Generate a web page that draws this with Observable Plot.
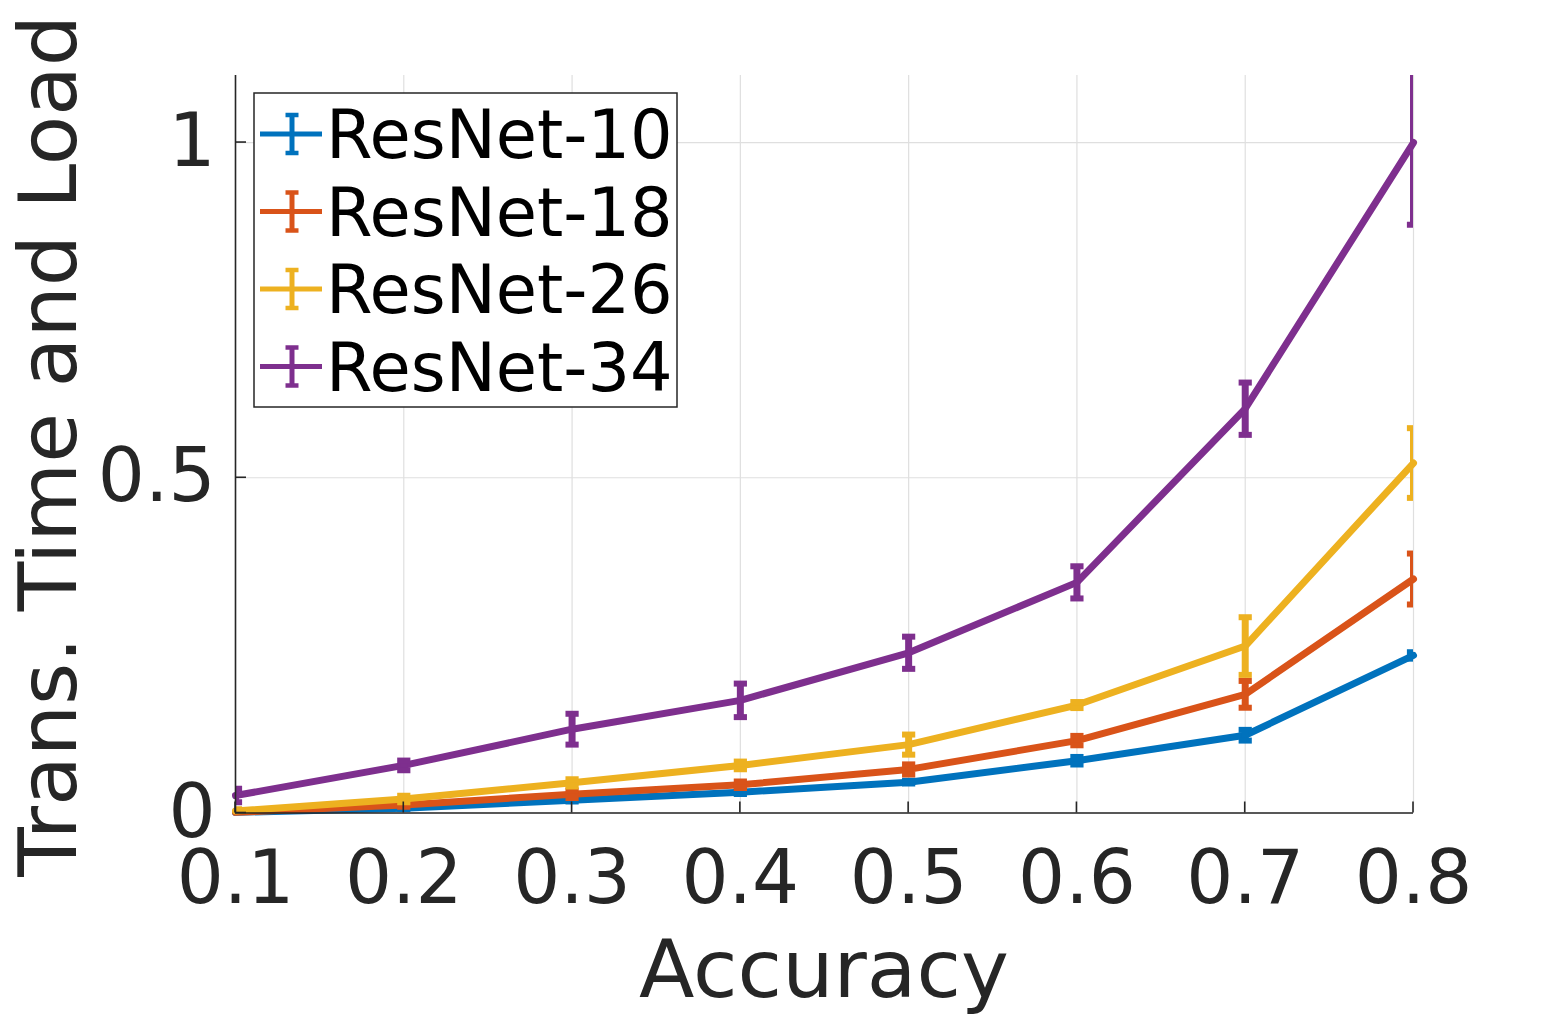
<!DOCTYPE html>
<html>
<head>
<meta charset="utf-8">
<script src="https://cdn.jsdelivr.net/npm/d3@7"></script>
<script src="https://cdn.jsdelivr.net/npm/@observablehq/plot@0.6"></script>
<style>
  html, body { margin: 0; padding: 0; background: #fff; }
  #chart { position: relative; width: 1563px; height: 1016px; }
</style>
</head>
<body>
<div id="chart"></div>
<script>
// ---- data ----
const accuracy = [0.1, 0.2, 0.3, 0.4, 0.5, 0.6, 0.7, 0.8];
const seriesNames = ["ResNet-10", "ResNet-18", "ResNet-26", "ResNet-34"];
const seriesColors = ["#0072BD", "#D95319", "#EDB120", "#7E2F8E"];
const resnet10 = [0.001, 0.007, 0.019, 0.031, 0.046, 0.078, 0.116, 0.235];
const resnet10Err = [0.001, 0.001, 0.002, 0.0025, 0.002, 0.0056, 0.008, 0.0048];
const resnet18 = [0.001, 0.012, 0.028, 0.042, 0.065, 0.108, 0.177, 0.349];
const resnet18Err = [0.002, 0.0025, 0.0055, 0.0048, 0.0075, 0.007, 0.020, 0.038];
const resnet26 = [0.003, 0.021, 0.045, 0.071, 0.102, 0.161, 0.249, 0.522];
const resnet26Err = [0.0025, 0.0048, 0.0055, 0.0057, 0.015, 0.0045, 0.043, 0.052];
const resnet34 = [0.026, 0.071, 0.125, 0.168, 0.239, 0.344, 0.603, 1.0];
const resnet34Err = [0.010, 0.0072, 0.023, 0.025, 0.024, 0.024, 0.039, 0.1225];
const xTicks = [0.1, 0.2, 0.3, 0.4, 0.5, 0.6, 0.7, 0.8];
const yTicks = [0, 0.5, 1];
const xLabel = "Accuracy";
const yLabel = "Trans. Time and Load";

const values = [resnet10, resnet18, resnet26, resnet34];
const errors = [resnet10Err, resnet18Err, resnet26Err, resnet34Err];
const rows = seriesNames.map((name, i) =>
  accuracy.map((x, j) => ({series: name, x, y: values[i][j], e: errors[i][j]}))
);

const INK = "#262626";
const FONT = "DejaVu Sans";
const capSymbol = { draw(ctx) { const w = 6.6; ctx.moveTo(-w, 0); ctx.lineTo(w, 0); } };

const seriesMarks = rows.flatMap((data, i) => [
  Plot.line(data, {x: "x", y: "y", stroke: seriesColors[i], strokeWidth: 7}),
  Plot.ruleX(data, {x: "x", y1: d => d.y - d.e, y2: d => d.y + d.e, stroke: seriesColors[i], strokeWidth: 7, clip: true}),
  Plot.dot(data, {x: "x", y: d => d.y + d.e, symbol: capSymbol, fill: "none", stroke: seriesColors[i], strokeWidth: 6, strokeLinecap: "butt", clip: true}),
  Plot.dot(data, {x: "x", y: d => d.y - d.e, symbol: capSymbol, fill: "none", stroke: seriesColors[i], strokeWidth: 6, strokeLinecap: "butt", clip: true})
]);

const chart = Plot.plot({
  width: 1563,
  height: 1016,
  marginLeft: 235,
  marginRight: 150,
  marginTop: 75,
  marginBottom: 203.5,
  style: {background: "#fff", color: INK, fontFamily: FONT},
  x: {domain: [0.1, 0.8]},
  y: {domain: [0, 1.1]},
  marks: [
    Plot.gridX(xTicks, {stroke: "#dfdfdf", strokeOpacity: 1, strokeWidth: 1.2}),
    Plot.gridY(yTicks, {stroke: "#dfdfdf", strokeOpacity: 1, strokeWidth: 1.2}),
    Plot.axisX(xTicks, {tickSize: 0, tickPadding: 37, fontSize: 74, tickFormat: d3.format(".1f"), label: null, fill: INK}),
    Plot.axisY(yTicks, {tickSize: 0, tickPadding: 20, fontSize: 74, tickFormat: d => String(d), label: null, fill: INK}),
    ...seriesMarks,
    Plot.ruleX([0.1], {stroke: INK, strokeWidth: 1.6}),
    Plot.ruleY([0], {stroke: INK, strokeWidth: 1.6})
  ]
});
document.getElementById("chart").appendChild(chart);

// ---- inward ticks, labels, legend drawn with the plot's own scales ----
const svg = d3.select(chart);
const sx = chart.scale("x"), sy = chart.scale("y");
const x0 = sx.apply(0.1), y0 = sy.apply(0);
svg.append("g").selectAll("line").data(xTicks).join("line")
  .attr("x1", d => sx.apply(d)).attr("x2", d => sx.apply(d))
  .attr("y1", y0).attr("y2", y0 - 11)
  .attr("stroke", INK).attr("stroke-width", 1.6);
svg.append("g").selectAll("line").data(yTicks).join("line")
  .attr("x1", x0).attr("x2", x0 + 11)
  .attr("y1", d => sy.apply(d)).attr("y2", d => sy.apply(d))
  .attr("stroke", INK).attr("stroke-width", 1.6);

const [ya, yb] = sy.range;
const [xa, xb] = sx.range;
svg.append("text")
  .attr("x", (xa + xb) / 2).attr("y", 997)
  .attr("text-anchor", "middle").attr("font-size", 81).attr("font-family", FONT)
  .attr("fill", INK).text(xLabel);
svg.append("text")
  .attr("transform", `translate(76,${(ya + yb) / 2 + 2}) rotate(-90)`)
  .attr("text-anchor", "middle").attr("font-size", 81).attr("font-family", FONT)
  .attr("fill", INK).text(yLabel);

// legend
const lg = svg.append("g").attr("text-anchor", "start");
lg.append("rect").attr("x", 254).attr("y", 93).attr("width", 423).attr("height", 314)
  .attr("fill", "#fff").attr("stroke", INK).attr("stroke-width", 1.5);
seriesNames.forEach((name, i) => {
  const cy = 134 + i * 77.5;
  const c = seriesColors[i];
  const g = lg.append("g");
  g.append("line").attr("x1", 260).attr("x2", 322).attr("y1", cy).attr("y2", cy)
    .attr("stroke", c).attr("stroke-width", 5);
  g.append("line").attr("x1", 292).attr("x2", 292).attr("y1", cy - 20).attr("y2", cy + 20)
    .attr("stroke", c).attr("stroke-width", 5);
  [cy - 19, cy + 19].forEach(yy =>
    g.append("line").attr("x1", 285.5).attr("x2", 298.5).attr("y1", yy).attr("y2", yy)
      .attr("stroke", c).attr("stroke-width", 4.5));
  g.append("text").attr("x", 326).attr("y", cy + 24).attr("text-anchor", "start")
    .attr("font-size", 67).attr("font-family", FONT).attr("fill", "#000").text(name);
});
</script>
</body>
</html>
